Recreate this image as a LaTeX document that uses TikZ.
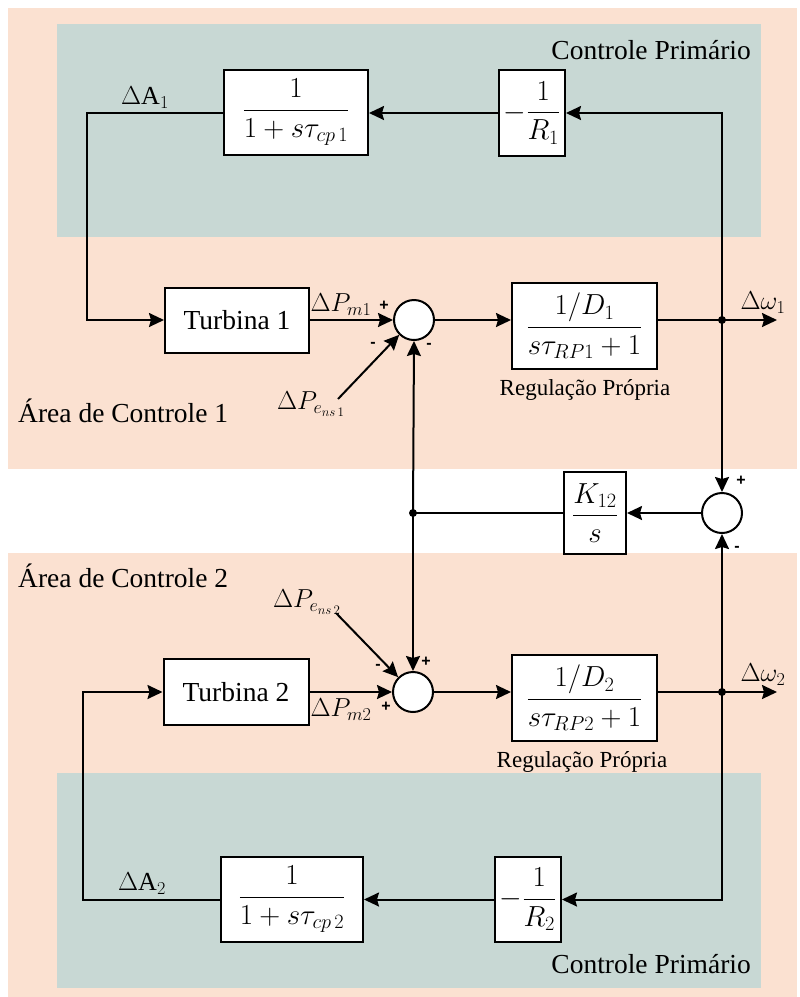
\RequirePackage{fix-cm}
\documentclass[tikz,border=0pt]{standalone}
\usepackage{amsmath}
\usepackage{fontspec}
\setmainfont{Liberation Serif}
\newfontfamily\signfam{Liberation Sans}
\usetikzlibrary{arrows.meta,shapes.geometric}
\definecolor{peach}{RGB}{251,225,209}
\definecolor{teal}{RGB}{200,216,212}
\newcommand\txtf{\rmfamily\fontsize{27.5}{32}\selectfont}
\newcommand\mathf{\rmfamily\fontsize{29}{34}\selectfont}
\newcommand\lblf{\rmfamily\fontsize{26}{30}\selectfont}
\newcommand\rpfont{\rmfamily\fontsize{23}{27}\selectfont}
\newcommand\signf{\signfam\bfseries\fontsize{16}{18}\selectfont}
\begin{document}
\begin{tikzpicture}[x=1pt,y=-1pt,
  box/.style={draw,line width=2pt,fill=white,inner sep=0pt,font=\mathf},
  sumc/.style={circle,draw,line width=2pt,fill=white,minimum size=40pt,inner sep=0pt},
  arr/.style={line width=2pt,-{Stealth[length=15pt,width=14pt,inset=2pt]}},
  ln/.style={line width=2pt},
  lbl/.style={font=\lblf,inner sep=0pt},
  ttl/.style={font=\txtf,inner sep=0pt},
  sg/.style={font=\signf,inner sep=0pt},
  dotc/.style={circle,fill=black,minimum size=8pt,inner sep=0pt}]
\useasboundingbox (0,0) rectangle (800,997);
\fill[white] (0,0) rectangle (800,997);
% backgrounds
\fill[peach] (8,8) rectangle (797,469);
\fill[peach] (8,553) rectangle (797,997);
\fill[teal] (57,24) rectangle (761,237);
\fill[teal] (57,773) rectangle (761,988);
% region labels
\node[ttl,anchor=base east] (cp1) at (751,59) {Controle Primário};
\node[ttl,anchor=base east] (cp2) at (751,973) {Controle Primário};
\node[ttl,anchor=base west] (ar1) at (18,422) {Área de Controle 1};
\node[ttl,anchor=base west] (ar2) at (18,587) {Área de Controle 2};
\node[font=\rpfont,inner sep=0pt,anchor=base] (rp1) at (585,395) {Regulação Própria};
\node[font=\rpfont,inner sep=0pt,anchor=base] (rp2) at (582,767) {Regulação Própria};
% blocks area 1
\node[box,minimum width=144pt,minimum height=85pt] (A1) at (296,112.5) {$\dfrac{1}{1+s\tau_{cp\,1}}$};
\node[box,minimum width=66pt,minimum height=86pt] (R1) at (532,113) {$-\dfrac{1}{R_1}$};
\node[box,font=\txtf,minimum width=144pt,minimum height=65pt] (T1) at (237,320) {Turbina 1};
\node[box,minimum width=145pt,minimum height=86pt] (D1) at (584.5,326) {$\dfrac{1/D_1}{s\tau_{RP1}+1}$};
\node[sumc] (c1) at (414,320) {};
% tie-line
\node[box,minimum width=62pt,minimum height=82pt] (K12) at (595,513) {$\dfrac{K_{12}}{s}$};
\node[sumc] (c3) at (722,513) {};
% blocks area 2
\node[box,font=\txtf,minimum width=145pt,minimum height=66pt] (T2) at (236,692) {Turbina 2};
\node[box,minimum width=145pt,minimum height=86pt] (D2) at (584.5,698) {$\dfrac{1/D_2}{s\tau_{RP2}+1}$};
\node[sumc] (c2) at (413,692) {};
\node[box,minimum width=142pt,minimum height=85pt] (A2) at (292,899.5) {$\dfrac{1}{1+s\tau_{cp\,2}}$};
\node[box,minimum width=66pt,minimum height=85pt] (R2) at (528,899.5) {$-\dfrac{1}{R_2}$};
% coordinates
\coordinate (dot1) at (722,320);
\coordinate (dot2) at (722,692);
\coordinate (dotK) at (413,513);
\coordinate (out1) at (777,320);
\coordinate (out2) at (777,692);
\coordinate (L1) at (87,320);
\coordinate (L2) at (83,692);
\coordinate (pe1) at (338,399);
\coordinate (pe2) at (336,613);
% connectors area 1
\draw[arr] (dot1) |- (R1.east);
\draw[arr] (R1.west) -- (A1.east |- R1.west);
\draw[arr] (A1.west) -| (L1) -- (T1.west);
\draw[arr] (T1.east) -- (c1.west);
\draw[arr] (c1.east) -- (c1.east -| D1.west);
\draw[arr] (D1.east |- c1.east) -- (out1);
\draw[arr] (pe1) -- (c1.south west);
\draw[arr] (dot1) -- (c3.north);
% tie-line connectors
\draw[arr] (c3.west) -- (K12.east);
\draw[ln] (K12.west) -- (dotK);
\draw[arr] (dotK) -- (c1.south);
\draw[arr] (dotK) -- (c2.north);
\draw[arr] (dot2) -- (c3.south);
% connectors area 2
\draw[arr] (T2.east) -- (c2.west);
\draw[arr] (c2.east) -- (c2.east -| D2.west);
\draw[arr] (D2.east |- c2.east) -- (out2);
\draw[arr] (pe2) -- (c2.north west);
\draw[arr] (dot2) |- (R2.east);
\draw[arr] (R2.west) -- (A2.east |- R2.west);
\draw[arr] (A2.west) -| (L2) -- (T2.west);
% junction dots
\node[dotc] (d1) at (dot1) {};
\node[dotc] (d2) at (dot2) {};
\node[dotc] (dk) at (dotK) {};
% signal labels
\node[lbl] (lA1) at (145,98) {$\Delta\mathrm{A}_1$};
\node[lbl] (lA2) at (142,884) {$\Delta\mathrm{A}_2$};
\node[lbl] (lPm1) at (341,305) {$\Delta P_{m1}$};
\node[lbl] (lPm2) at (341,710) {$\Delta P_{m2}$};
\node[lbl] (lPe1) at (311,404) {$\Delta P_{e_{ns\,1}}$};
\node[lbl] (lPe2) at (307,602) {$\Delta P_{e_{ns\,2}}$};
\node[lbl] (lw1) at (763,303) {$\Delta\omega_1$};
\node[lbl] (lw2) at (763,675) {$\Delta\omega_2$};
% signs
\node[sg] (s1a) at (384,306) {+};
\node[sg] (s1b) at (373,345) {-};
\node[sg] (s1c) at (429,346) {-};
\node[sg] (s2a) at (378,667) {-};
\node[sg] (s2b) at (426,662) {+};
\node[sg] (s2c) at (386,707) {+};
\node[sg] (s3a) at (741,481) {+};
\node[sg] (s3b) at (737,549) {-};
\end{tikzpicture}
\end{document}
